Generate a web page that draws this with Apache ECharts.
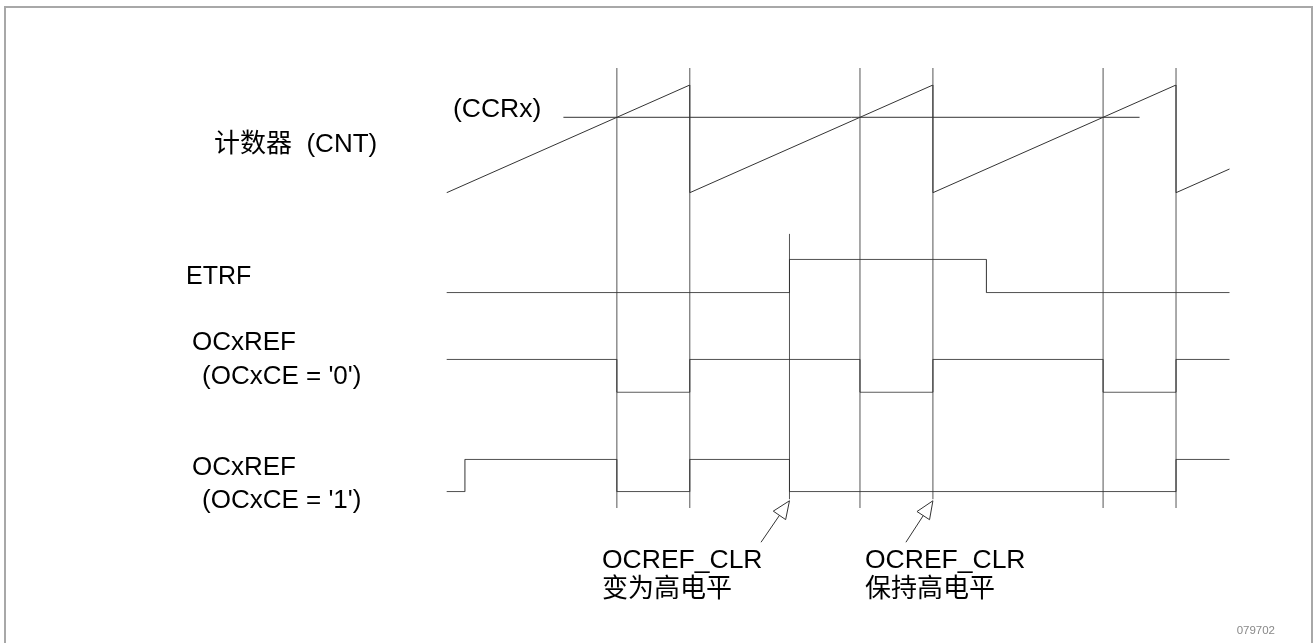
<!DOCTYPE html>
<html>
<head>
<meta charset="utf-8">
<script src="https://cdn.jsdelivr.net/npm/echarts@6/dist/echarts.min.js"></script>
<style>
html, body { margin: 0; padding: 0; background: #fff; }
#main { width: 1314px; height: 643px; }
</style>
</head>
<body>
<div id="main"></div>
<script>
// 时间单位：一个计数周期 = 100
var tMax = 322;

// 计数器 (CNT)
var cntTime = [0, 100, 100, 200, 200, 300, 300, 322];
var cntValue = [0, 100, 0, 100, 0, 100, 0, 22];
var ccrValue = 70;
var ccrStart = 48, ccrEnd = 285;

// ETRF
var etrfTime = [0, 141, 222, 322];
var etrfLevel = [0, 1, 0, 0];

// OCxREF (OCxCE='0')
var oc0Time = [0, 70, 100, 170, 200, 270, 300, 322];
var oc0Level = [1, 0, 1, 0, 1, 0, 1, 1];

// OCxREF (OCxCE='1')
var oc1Time = [0, 7.5, 70, 100, 141, 300, 322];
var oc1Level = [0, 1, 0, 1, 0, 1, 1];

// 竖线时刻
var markTime = [70, 100, 141, 170, 200, 270, 300];

// OCREF_CLR 箭头 (箭尖时刻, 箭尾时刻)
var arrowTipTime = [141, 200];
var arrowTailTime = [129.3, 188.9];

// ---- 布局 ----
var plotLeft = 446.7, plotWidth = 782.8;
var lineColor = '#333';
var fontEn = '"Liberation Sans", Arial, "Noto Sans CJK SC", sans-serif';
// 竖线的上下端（覆盖层 0..1）
var markRange = { 141: [0.02, 0.623], 200: [0.02, 1] };
var arrowTipLevel = -0.28, arrowTailLevel = -1.56;

function pairs(xs, ys) {
	return xs.map(function (x, i) { return [x, ys[i]]; });
}

var myChart = echarts.init(document.getElementById('main'));

var grids = [
	{ top: 85, height: 107.7 },    // 计数器
	{ top: 259.3, height: 33.4 },  // ETRF
	{ top: 359.3, height: 33 },    // OCxREF 0
	{ top: 459.3, height: 32.4 },  // OCxREF 1
	{ top: 68, height: 440 }       // 竖线
].map(function (g) {
	return { left: plotLeft, width: plotWidth, top: g.top, height: g.height, show: false, outerBoundsMode: 'none' };
});

var xAxes = grids.map(function (g, i) {
	return { type: 'value', gridIndex: i, min: 0, max: tMax, show: false };
});
var yAxes = grids.map(function (g, i) {
	return { type: 'value', gridIndex: i, min: 0, max: i === 0 ? 100 : 1, show: false };
});

function wave(idx, data, step) {
	return {
		type: 'line', xAxisIndex: idx, yAxisIndex: idx,
		data: data, step: step || false,
		symbol: 'none', silent: true,
		lineStyle: { color: lineColor, width: 1 }
	};
}

function label(text, x, y, size, opt) {
	opt = opt || {};
	return {
		type: 'text', x: x, y: y, silent: true,
		style: {
			text: text, fill: opt.color || '#000',
			font: size + 'px ' + fontEn,
			align: opt.align || 'left', verticalAlign: 'middle'
		}
	};
}

var option = {
	animation: false,
	backgroundColor: '#fff',
	grid: grids,
	xAxis: xAxes,
	yAxis: yAxes,
	series: [
		{
			type: 'custom', xAxisIndex: 4, yAxisIndex: 4, silent: true, clip: false,
			data: markTime.map(function (t) {
				var r = markRange[t] || [0, 1];
				return [t, r[0], r[1]];
			}),
			renderItem: function (params, api) {
				var p0 = api.coord([api.value(0), api.value(1)]);
				var p1 = api.coord([api.value(0), api.value(2)]);
				return {
					type: 'line',
					shape: { x1: p0[0], y1: p0[1], x2: p1[0], y2: p1[1] },
					style: { stroke: '#555', lineWidth: 1 }
				};
			}
		},
		wave(0, pairs(cntTime, cntValue)),
		wave(0, [[ccrStart, ccrValue], [ccrEnd, ccrValue]]),
		wave(1, pairs(etrfTime, etrfLevel), 'end'),
		wave(2, pairs(oc0Time, oc0Level), 'end'),
		wave(3, pairs(oc1Time, oc1Level), 'end'),
		{
			type: 'custom', xAxisIndex: 3, yAxisIndex: 3, silent: true, clip: false,
			data: pairs(arrowTipTime, arrowTailTime),
			renderItem: function (params, api) {
				var tip = api.coord([api.value(0), arrowTipLevel]);
				var tail = api.coord([api.value(1), arrowTailLevel]);
				var dx = tip[0] - tail[0], dy = tip[1] - tail[1];
				var len = Math.sqrt(dx * dx + dy * dy);
				var ux = dx / len, uy = dy / len;
				var hl = 17.7, hw = 7.5;
				var bx = tip[0] - ux * hl, by = tip[1] - uy * hl;
				return {
					type: 'group',
					children: [
						{
							type: 'line',
							shape: { x1: tail[0], y1: tail[1], x2: bx, y2: by },
							style: { stroke: lineColor, lineWidth: 1 }
						},
						{
							type: 'polygon',
							shape: { points: [[tip[0], tip[1]], [bx - uy * hw, by + ux * hw], [bx + uy * hw, by - ux * hw]] },
							style: { fill: 'none', stroke: lineColor, lineWidth: 1 }
						}
					]
				};
			}
		}
	],
	graphic: [
		{
			type: 'rect', silent: true,
			shape: { x: 5, y: 7, width: 1307, height: 700 },
			style: { fill: 'none', stroke: '#a8a8a8', lineWidth: 2 }
		},
		label('计数器  (CNT)', 214, 145, 26),
		label('(CCRx)', 453, 110, 26.5),
		label('ETRF', 186, 277, 25),
		label('OCxREF', 192, 343, 26),
		label("(OCxCE = '0')", 202, 377, 26),
		label('OCxREF', 192, 468, 26),
		label("(OCxCE = '1')", 202, 501, 26),
		label('OCREF_CLR', 602, 561, 26.5),
		label('变为高电平', 602, 590, 26),
		label('OCREF_CLR', 865, 561, 26.5),
		label('保持高电平', 865, 590, 26),
		label('079702', 1275, 631, 11.5, { align: 'right', color: '#888' })
	]
};

myChart.setOption(option);
</script>
</body>
</html>
